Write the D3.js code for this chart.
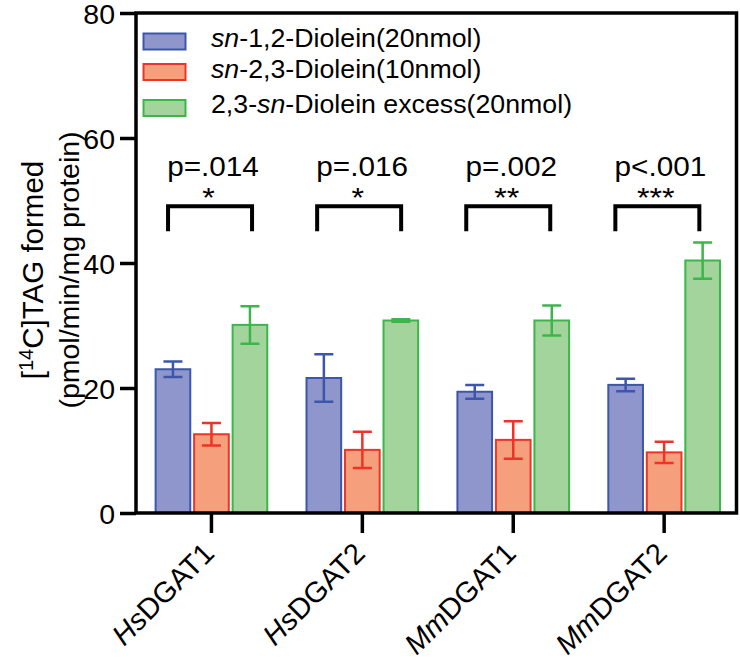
<!DOCTYPE html>
<html><head><meta charset="utf-8">
<script src="https://cdn.jsdelivr.net/npm/d3@7"></script>
<style>
body{margin:0;background:#fff}
svg{display:block}
text{font-family:"Liberation Sans",Arial,Helvetica,sans-serif;fill:#000}
</style>
</head><body>
<svg id="c" width="740" height="660"></svg>
<script>
// ---------- data ----------
const categories = ["HsDGAT1", "HsDGAT2", "MmDGAT1", "MmDGAT2"];
const categoryItalic = ["Hs", "Hs", "Mm", "Mm"];
const categoryPlain = ["DGAT1", "DGAT2", "DGAT1", "DGAT2"];

const seriesKeys = ["sn12", "sn23", "excess"];
const seriesLabelParts = [
  [["sn", true], ["-1,2-Diolein(20nmol)", false]],
  [["sn", true], ["-2,3-Diolein(10nmol)", false]],
  [["2,3-", false], ["sn", true], ["-Diolein excess(20nmol)", false]]
];

const sn12Values = [23.0, 21.6, 19.4, 20.5];
const sn12Errors = [1.25, 3.8, 1.1, 1.0];
const sn23Values = [12.6, 10.1, 11.7, 9.7];
const sn23Errors = [1.8, 2.9, 3.0, 1.7];
const excessValues = [30.1, 30.8, 30.8, 40.4];
const excessErrors = [3.0, 0.2, 2.4, 2.9];

const yTicks = [0, 20, 40, 60, 80];
const yTitleLine1 = ["[", "14", "C]TAG formed"];
const yTitleLine2 = "(pmol/min/mg protein)";
const pLabels = ["p=.014", "p=.016", "p=.002", "p<.001"];
const starLabels = ["*", "*", "**", "***"];

// ---------- styles ----------
const fills = {sn12: "#8f96cc", sn23: "#f59f7d", excess: "#a2d49b"};
const strokes = {sn12: "#3c56ab", sn23: "#ee3426", excess: "#3cb64a"};

const seriesValues = {sn12: sn12Values, sn23: sn23Values, excess: excessValues};
const seriesErrors = {sn12: sn12Errors, sn23: sn23Errors, excess: excessErrors};

const svg = d3.select("#c");

// ---------- scales ----------
const y = d3.scaleLinear().domain([0, 80]).range([513, 13]);
const x0 = d3.scaleBand().domain(categories).range([136, 739.6])
  .paddingInner(0.26).paddingOuter(0.13);
const x1 = d3.scaleBand().domain(seriesKeys).range([0, x0.bandwidth()]).paddingInner(0.1);

// text helper: parts = [[string, italic], ...]
function txt(parent, x, yy, opts, parts) {
  const g = parent.append("g")
    .attr("transform", `translate(${x},${yy}) scale(${opts.k || 1},1) rotate(${opts.rot || 0})`);
  const t = g.append("text")
    .attr("text-anchor", opts.anchor || "start")
    .attr("font-size", opts.size);
  parts.forEach(p => {
    const ts = t.append("tspan").text(p[0]);
    if (p[1]) ts.attr("font-style", "italic");
  });
  return t;
}

// ---------- bars ----------
const groups = svg.append("g").selectAll("g").data(categories).join("g")
  .attr("transform", d => `translate(${x0(d)},0)`);

groups.selectAll("rect").data((d, i) => seriesKeys.map(k => ({k, v: seriesValues[k][i]})))
  .join("rect")
  .attr("x", d => x1(d.k))
  .attr("y", d => y(d.v))
  .attr("width", x1.bandwidth())
  .attr("height", d => y(0) - y(d.v))
  .attr("fill", d => fills[d.k])
  .attr("stroke", d => strokes[d.k])
  .attr("stroke-width", 2);

// error bars
const capW = 19;
groups.each(function (cat, i) {
  const g = d3.select(this);
  seriesKeys.forEach(k => {
    const v = seriesValues[k][i], e = seriesErrors[k][i];
    const cx = x1(k) + x1.bandwidth() / 2;
    const path = `M${cx},${y(v - e)}V${y(v + e)}` +
      `M${cx - capW / 2},${y(v + e)}H${cx + capW / 2}` +
      `M${cx - capW / 2},${y(v - e)}H${cx + capW / 2}`;
    g.append("path").attr("d", path).attr("fill", "none")
      .attr("stroke", strokes[k]).attr("stroke-width", 2.5);
  });
});

// ---------- axes / frame ----------
const yAxis = svg.append("g").attr("transform", "translate(136,0)")
  .call(d3.axisLeft(y).tickValues(yTicks).tickSize(16).tickSizeOuter(0).tickPadding(5));
yAxis.select(".domain").remove();
yAxis.selectAll(".tick line").attr("stroke", "#000").attr("stroke-width", 3.5);
yAxis.selectAll(".tick text").attr("font-size", 28.5).attr("font-family", "Liberation Sans, Arial, sans-serif")
  .attr("dy", "0.36em").attr("fill", "#000");

const xAxis = svg.append("g").attr("transform", `translate(0,${y(0)})`)
  .call(d3.axisBottom(x0).tickSize(20).tickSizeOuter(0).tickFormat(""));
xAxis.select(".domain").remove();
xAxis.selectAll(".tick line").attr("stroke", "#000").attr("stroke-width", 3.5);

svg.append("rect").attr("x", 136).attr("y", y(80))
  .attr("width", 736.5 - 136).attr("height", y(0) - y(80))
  .attr("fill", "none").attr("stroke", "#000").attr("stroke-width", 3.5);

// x labels
categories.forEach((c, i) => {
  const cx = x0(c) + x0.bandwidth() / 2;
  txt(svg, cx + 4.4, 555, {rot: -45, anchor: "end", size: 29},
    [[categoryItalic[i], true], [categoryPlain[i], false]]);
});

// y title
{
  const g1 = svg.append("g").attr("transform", "translate(43,270) rotate(-90)");
  const t1 = g1.append("text").attr("text-anchor", "middle").attr("font-size", 29.5);
  t1.append("tspan").text(yTitleLine1[0]);
  t1.append("tspan").text(yTitleLine1[1]).attr("font-size", 20).attr("dy", "-10");
  t1.append("tspan").text(yTitleLine1[2]).attr("dy", "10");
  txt(svg, 79, 270, {rot: -90, anchor: "middle", size: 28.5}, [[yTitleLine2, false]]);
}

// ---------- legend ----------
const legRows = [{top: 33.5, base: 47}, {top: 64, base: 78}, {top: 100, base: 113}];
seriesKeys.forEach((k, j) => {
  svg.append("rect").attr("x", 143.5).attr("y", legRows[j].top)
    .attr("width", 42).attr("height", 16)
    .attr("fill", fills[k]).attr("stroke", strokes[k]).attr("stroke-width", 2);
  txt(svg, 211, legRows[j].base, {k: 1.07, size: 25}, seriesLabelParts[j]);
});

// ---------- significance annotations ----------
categories.forEach((c, i) => {
  const cx = x0(c) + x0.bandwidth() / 2 - 1.4 - 1.8 * i;
  const hw = 42;
  svg.append("path")
    .attr("d", `M${cx - hw},${y(45.1)}V${y(49.1)}H${cx + hw}V${y(45.1)}`)
    .attr("fill", "none").attr("stroke", "#000").attr("stroke-width", 4)
    .attr("stroke-linejoin", "miter");
  txt(svg, cx + 3, 176, {k: 1.08, anchor: "middle", size: 27.5}, [[pLabels[i], false]]);
  txt(svg, cx - 1.5, 207, {k: 1.15, anchor: "middle", size: 28}, [[starLabels[i], false]]);
});
</script>
</body></html>
